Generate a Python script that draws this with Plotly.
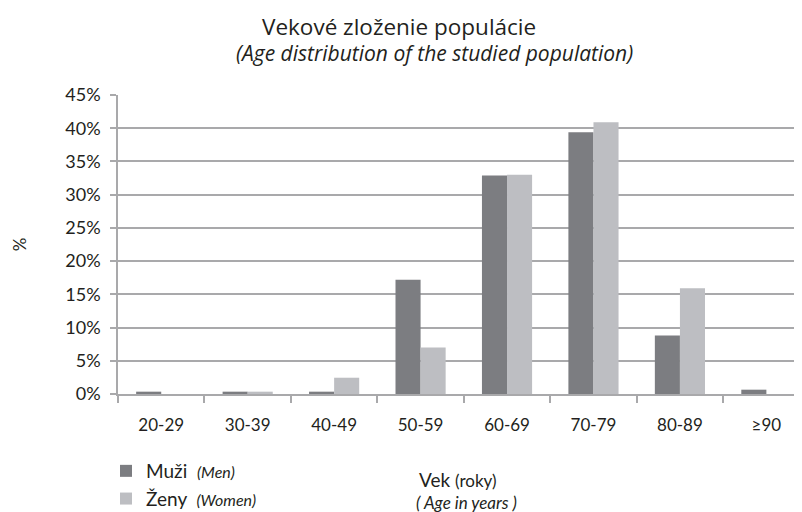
import plotly.graph_objects as go

# ---- data ----
categories = ["20-29", "30-39", "40-49", "50-59", "60-69", "70-79", "80-89", "≥90"]
men_pct = [0.35, 0.35, 0.35, 17.2, 32.9, 39.4, 8.8, 0.65]
women_pct = [0.0, 0.35, 2.45, 7.0, 33.0, 40.9, 15.9, 0.0]
y_tick_values = [0, 5, 10, 15, 20, 25, 30, 35, 40, 45]
y_tick_labels = [f"{v}%" for v in y_tick_values]

men_label = "Muži&nbsp;&nbsp;<span style='font-size:16px'><i>(Men)</i></span>"
women_label = "Ženy&nbsp;&nbsp;<span style='font-size:16px'><i>(Women)</i></span>"
title_main = "Vekové zloženie populácie"
title_sub = "<i>(Age distribution of the studied population)</i>"
x_title_1 = "Vek <span style='font-size:17px'>(roky)</span>"
x_title_2 = "<i>( Age in years )</i>"
y_title = "%"

# ---- geometry (page body has an 8px margin, so the figure is offset) ----
OFF = 8
W, H = 802 - OFF, 512 - OFF
L, R, T, B = 118 - OFF, 0, 95 - OFF, 118
PW = W - L - R
PH = H - T - B
cat_w = 86.45
x_max = -0.5 + PW / cat_w

FONT = "Lato, 'Open Sans', sans-serif"
TFONT = "'Open Sans', Lato, sans-serif"
TXT = "#231f20"
MEN_C = "#7c7d81"
WOMEN_C = "#bdbec2"
GRID_C = "#a9a9ab"


def px_x(px):
    return (px - OFF - L) / PW


def px_y(py):
    return (H - B - (py - OFF)) / PH


fig = go.Figure()
fig.add_trace(go.Bar(x=categories, y=men_pct, name=men_label,
                     marker=dict(color=MEN_C, line=dict(width=0))))
fig.add_trace(go.Bar(x=categories, y=women_pct, name=women_label,
                     marker=dict(color=WOMEN_C, line=dict(width=0))))

fig.update_layout(
    width=W, height=H,
    margin=dict(l=L, r=R, t=T, b=B, autoexpand=False),
    paper_bgcolor="white", plot_bgcolor="white",
    font=dict(family=FONT, color=TXT, size=17),
    barmode="group", bargap=0.42, bargroupgap=0,
    showlegend=True,
    legend=dict(x=px_x(106), y=px_y(452), xanchor="left", yanchor="top",
                orientation="v", font=dict(size=19, color=TXT),
                bgcolor="rgba(0,0,0,0)", itemwidth=30, traceorder="normal"),
)

fig.update_xaxes(
    type="category", range=[-0.5, x_max],
    showline=True, linecolor=GRID_C, linewidth=1.5,
    ticks="outside", tickson="boundaries", ticklen=7, tickcolor=GRID_C, tickwidth=1.5,
    showgrid=False, tickfont=dict(size=17, color=TXT), ticklabelstandoff=15,
)
fig.update_yaxes(
    range=[0, 45], tickvals=y_tick_values, ticktext=y_tick_labels,
    showgrid=True, gridcolor=GRID_C, gridwidth=1.5,
    showline=True, linecolor=GRID_C, linewidth=1.5,
    ticks="outside", ticklen=6, tickcolor=GRID_C, tickwidth=1.5,
    tickfont=dict(size=18, color=TXT), zeroline=False, ticklabelstandoff=6,
    title=dict(text=y_title, font=dict(size=17, color=TXT), standoff=34),
)

annots = [
    dict(text=title_main, x=px_x(399), y=px_y(27), font=dict(size=22.5, family=TFONT)),
    dict(text=title_sub, x=px_x(434), y=px_y(53), font=dict(size=21, family=TFONT)),
    dict(text=x_title_1, x=px_x(457), y=px_y(479), font=dict(size=19)),
    dict(text=x_title_2, x=px_x(466), y=px_y(502), font=dict(size=17)),
]
for a in annots:
    fig.add_annotation(xref="paper", yref="paper", xanchor="center", yanchor="middle",
                       showarrow=False, **a)

fig.write_html("out.html")
